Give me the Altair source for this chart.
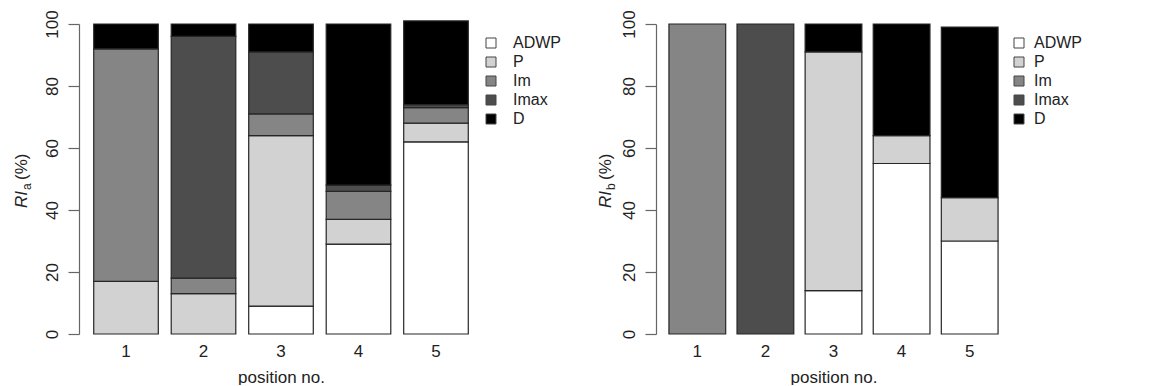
import altair as alt
import pandas as pd

positions = ["1", "2", "3", "4", "5"]
categories = ["ADWP", "P", "Im", "Imax", "D"]
fill_colors = ["#ffffff", "#d2d2d2", "#858585", "#4d4d4d", "#000000"]
y_ticks = [0, 20, 40, 60, 80, 100]

# RI_a (%) per position (stack order bottom -> top)
ria_adwp = [0, 0, 9, 29, 62]
ria_p = [17, 13, 55, 8, 6]
ria_im = [75, 5, 7, 9, 5]
ria_imax = [0, 78, 20, 2, 1]
ria_d = [8, 4, 9, 52, 27]

# RI_b (%) per position
rib_adwp = [0, 0, 14, 55, 30]
rib_p = [0, 0, 77, 9, 14]
rib_im = [100, 0, 0, 0, 0]
rib_imax = [0, 100, 0, 0, 0]
rib_d = [0, 0, 9, 36, 55]

FONT = "Liberation Sans"
TXT = "#222222"
GRAY = "#666666"


def frame(series):
    rows = []
    for ci, (cat, vals) in enumerate(zip(categories, series)):
        for pos, v in zip(positions, vals):
            if v > 0:
                rows.append({"position": pos, "category": cat, "order": ci, "value": v})
    return pd.DataFrame(rows)


def text_layer(txt, x, y, size, italic=False):
    return alt.Chart(pd.DataFrame({"t": [txt]})).mark_text(
        angle=270, align="left", baseline="alphabetic", fontSize=size,
        fontStyle="italic" if italic else "normal", font=FONT, color=TXT
    ).encode(text="t:N", x=alt.value(x), y=alt.value(y))


def panel(df, width, sub, title_x, legend_x, legend_gap):
    bars = alt.Chart(df).mark_bar(stroke="#262626", strokeWidth=1.2).encode(
        x=alt.X(
            "position:N", sort=positions,
            scale=alt.Scale(paddingInner=0.2 / 1.2, paddingOuter=0.19),
            axis=alt.Axis(
                title="position no.", labelAngle=0, ticks=False, domain=False,
                labelPadding=9, titlePadding=10, labelFontSize=17, titleFontSize=17,
                titleFontWeight="normal", labelFont=FONT, titleFont=FONT,
                labelColor=TXT, titleColor=TXT, grid=False,
            ),
        ),
        y=alt.Y(
            "value:Q", stack="zero",
            scale=alt.Scale(domain=[0, 100], nice=False, zero=True),
            axis=alt.Axis(
                title=None, values=y_ticks, labelAngle=270, labelAlign="center",
                labelBaseline="alphabetic", labelPadding=11, tickSize=11,
                tickColor=GRAY, domainColor=GRAY, tickWidth=1.2, domainWidth=1.2,
                labelFontSize=17, labelFont=FONT, labelColor=TXT, grid=False,
            ),
        ),
        color=alt.Color(
            "category:N",
            scale=alt.Scale(domain=categories, range=fill_colors),
            legend=alt.Legend(
                title=None, orient="none", legendX=legend_x, legendY=11,
                symbolType="square", symbolSize=100, symbolStrokeColor="#444444",
                symbolStrokeWidth=1, labelFontSize=16, labelFont=FONT,
                labelColor=TXT, labelOffset=legend_gap, rowPadding=3, padding=0,
            ),
        ),
        order=alt.Order("order:Q"),
    )
    ri = text_layer("RI", title_x, 184, 17, italic=True)
    sb = text_layer(sub, title_x + 4, 166, 12, italic=False)
    pc = text_layer("(%)", title_x, 156, 17)
    return alt.layer(bars, ri, sb, pc).properties(width=width, height=310)


left = panel(frame([ria_adwp, ria_p, ria_im, ria_imax, ria_d]), 404, "a", -52, 404, 14)
right = panel(frame([rib_adwp, rib_p, rib_im, rib_imax, rib_d]), 355, "b", -45, 355, 7)

chart = (
    alt.hconcat(left, right, spacing=173, bounds="flush")
    .resolve_scale(color="independent")
    .properties(
        padding={"left": 5, "top": 1, "right": 0, "bottom": 0},
        background="white",
    )
    .configure_view(stroke=None)
)

chart.save("out.html", embed_options={"renderer": "svg", "actions": False})
